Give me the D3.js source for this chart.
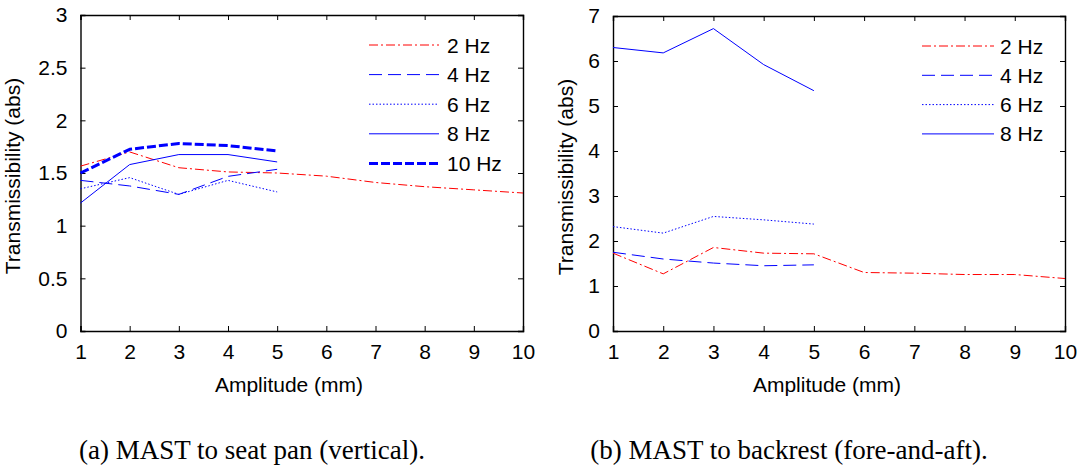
<!DOCTYPE html>
<html>
<head>
<meta charset="utf-8">
<script src="https://cdn.jsdelivr.net/npm/d3@7"></script>
<style>
  html, body { margin: 0; padding: 0; background: #fff; }
  svg { display: block; }
  text { font-family: "Liberation Sans", Arial, sans-serif; fill: #000; }
  .caption { font-family: "Liberation Serif", "Times New Roman", serif; }
</style>
</head>
<body>
<svg id="chart" width="1080" height="469"></svg>
<script>
// Amplitude levels (mm)
const amplitudes = [1, 2, 3, 4, 5, 6, 7, 8, 9, 10];
const xTicks = [1, 2, 3, 4, 5, 6, 7, 8, 9, 10];

// (a) MAST to seat pan (vertical)
const seat2Hz  = [1.565, 1.70, 1.55, 1.51, 1.50, 1.47, 1.41, 1.37, 1.34, 1.31];
const seat4Hz  = [1.43, 1.377, 1.297, 1.468, 1.535];
const seat6Hz  = [1.35, 1.456, 1.297, 1.43, 1.32];
const seat8Hz  = [1.215, 1.58, 1.675, 1.675, 1.605];
const seat10Hz = [1.50, 1.725, 1.78, 1.76, 1.71];
const seatYTicks = [0, 0.5, 1, 1.5, 2, 2.5, 3];

// (b) MAST to backrest (fore-and-aft)
const back2Hz = [1.73, 1.27, 1.856, 1.73, 1.715, 1.30, 1.285, 1.255, 1.255, 1.166];
const back4Hz = [1.75, 1.60, 1.51, 1.45, 1.47];
const back6Hz = [2.32, 2.175, 2.546, 2.47, 2.376];
const back8Hz = [6.30, 6.18, 6.72, 5.92, 5.34];
const backYTicks = [0, 1, 2, 3, 4, 5, 6, 7];

const styles = {
  "2 Hz":  { color: "#ff0000", width: 1, dash: "9,3,2,3" },
  "4 Hz":  { color: "#0000ff", width: 1, dash: "13,6" },
  "6 Hz":  { color: "#0000ff", width: 1, dash: "1.5,2" },
  "8 Hz":  { color: "#0000ff", width: 1, dash: null },
  "10 Hz": { color: "#0000ff", width: 3, dash: "9,3" }
};

const FONT = 21;
const svg = d3.select("#chart");

function panel(cfg) {
  const g = svg.append("g");
  const x = d3.scaleLinear().domain([1, 10]).range([cfg.left, cfg.right]);
  const y = d3.scaleLinear().domain([0, cfg.yMax]).range([cfg.bottom, cfg.top]);
  const tick = 5;

  // inward ticks on all four sides
  const axB = d3.axisBottom(x).tickValues(xTicks).tickSize(-tick).tickPadding(13).tickFormat(d3.format("d"));
  const axT = d3.axisTop(x).tickValues(xTicks).tickSize(-tick).tickFormat("");
  const axL = d3.axisLeft(y).tickValues(cfg.yTicks).tickSize(-tick).tickPadding(13).tickFormat(d => String(d));
  const axR = d3.axisRight(y).tickValues(cfg.yTicks).tickSize(-tick).tickFormat("");

  const style = sel => {
    sel.selectAll("path.domain").attr("stroke", "#000").attr("stroke-width", 1.4);
    sel.selectAll(".tick line").attr("stroke", "#000").attr("stroke-width", 1);
    sel.selectAll(".tick text").attr("font-size", FONT)
      .attr("font-family", "'Liberation Sans', Arial, sans-serif").attr("fill", "#000");
  };
  g.append("g").attr("transform", `translate(0,${cfg.bottom})`).call(axB).call(style);
  g.append("g").attr("transform", `translate(0,${cfg.top})`).call(axT).call(style);
  g.append("g").attr("transform", `translate(${cfg.left},0)`).call(axL).call(style);
  g.append("g").attr("transform", `translate(${cfg.right},0)`).call(axR).call(style);

  const line = d3.line().x((d, i) => x(amplitudes[i])).y(d => y(d));

  cfg.series.forEach(s => {
    const st = styles[s.name];
    g.append("path")
      .datum(s.values)
      .attr("d", line)
      .attr("fill", "none")
      .attr("stroke", st.color)
      .attr("stroke-width", st.width)
      .attr("stroke-dasharray", st.dash)
      .attr("stroke-linejoin", "round");
  });

  // legend
  cfg.series.forEach((s, i) => {
    const st = styles[s.name];
    const ly = cfg.legend.y0 + i * cfg.legend.dy;
    g.append("line")
      .attr("x1", cfg.legend.x1).attr("x2", cfg.legend.x2)
      .attr("y1", ly).attr("y2", ly)
      .attr("stroke", st.color).attr("stroke-width", st.width)
      .attr("stroke-dasharray", st.dash);
    g.append("text")
      .attr("x", cfg.legend.tx).attr("y", ly)
      .attr("dy", "0.36em")
      .attr("font-size", FONT)
      .text(s.name);
  });

  // axis titles
  g.append("text")
    .attr("x", cfg.xLabelX).attr("y", 392)
    .attr("text-anchor", "middle").attr("font-size", FONT)
    .text("Amplitude (mm)");
  g.append("text")
    .attr("transform", `translate(${cfg.yLabelX},${cfg.yLabelY}) rotate(-90)`)
    .attr("text-anchor", "middle").attr("font-size", FONT)
    .text("Transmissibility (abs)");

  // caption
  g.append("text")
    .attr("class", "caption")
    .attr("x", cfg.captionX).attr("y", 459)
    .attr("text-anchor", "middle").attr("font-size", 27)
    .text(cfg.caption);
}

panel({
  left: 80.5, right: 523, top: 15, bottom: 331, yMax: 3, yTicks: seatYTicks,
  series: [
    { name: "2 Hz", values: seat2Hz },
    { name: "4 Hz", values: seat4Hz },
    { name: "6 Hz", values: seat6Hz },
    { name: "8 Hz", values: seat8Hz },
    { name: "10 Hz", values: seat10Hz }
  ],
  legend: { x1: 369, x2: 439, tx: 447, y0: 45, dy: 29.6 },
  xLabelX: 289, yLabelX: 20, yLabelY: 176,
  caption: "(a) MAST to seat pan (vertical).", captionX: 252
});

panel({
  left: 613, right: 1065, top: 16, bottom: 331, yMax: 7, yTicks: backYTicks,
  series: [
    { name: "2 Hz", values: back2Hz },
    { name: "4 Hz", values: back4Hz },
    { name: "6 Hz", values: back6Hz },
    { name: "8 Hz", values: back8Hz }
  ],
  legend: { x1: 922, x2: 994, tx: 1000, y0: 46, dy: 29.3 },
  xLabelX: 827, yLabelX: 573, yLabelY: 177,
  caption: "(b) MAST to backrest (fore-and-aft).", captionX: 789
});
</script>
</body>
</html>
